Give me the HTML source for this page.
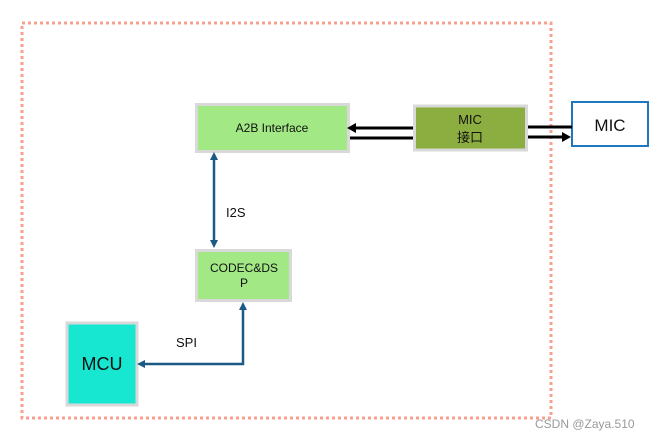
<!DOCTYPE html>
<html><head><meta charset="utf-8"><style>
html,body{margin:0;padding:0;background:#fff;width:659px;height:439px;overflow:hidden}
svg{display:block}
text{font-family:"Liberation Sans","Noto Sans CJK SC",sans-serif}
</style></head><body>
<svg width="659" height="439" viewBox="0 0 659 439" xmlns="http://www.w3.org/2000/svg">
<rect x="22" y="23" width="529" height="395" fill="none" stroke="#f8a090" stroke-width="3" stroke-dasharray="3 3"/>
<!-- A2B -->
<rect x="196.5" y="104.5" width="152" height="47" fill="#a2e884" stroke="#d9d9d9" stroke-width="3"/>
<text x="272" y="132" font-size="12" text-anchor="middle" fill="#111">A2B Interface</text>
<!-- MIC interface -->
<rect x="414.5" y="106" width="112" height="44" fill="#8cae40" stroke="#d9d9d9" stroke-width="3"/>
<text x="470" y="124" font-size="13" text-anchor="middle" fill="#111">MIC</text>
<text x="470" y="142" font-size="13" text-anchor="middle" fill="#111">接口</text>
<!-- MIC -->
<rect x="572" y="102" width="76" height="44" fill="#fff" stroke="#1f77be" stroke-width="2"/>
<text x="610" y="131" font-size="17" text-anchor="middle" fill="#111">MIC</text>
<!-- black arrows -->
<line x1="413" y1="128" x2="354" y2="128" stroke="#000" stroke-width="3"/>
<polygon points="347,128 356,123 356,133" fill="#000"/>
<line x1="350" y1="138" x2="413" y2="138" stroke="#000" stroke-width="3"/>
<line x1="528" y1="127" x2="572" y2="127" stroke="#000" stroke-width="3"/>
<line x1="528" y1="137" x2="564" y2="137" stroke="#000" stroke-width="3"/>
<polygon points="571,137 562,132 562,142" fill="#000"/>
<!-- CODEC -->
<rect x="196.5" y="250.5" width="94" height="50" fill="#a2e884" stroke="#d9d9d9" stroke-width="3"/>
<text x="244" y="272" font-size="12" text-anchor="middle" fill="#111">CODEC&amp;DS</text>
<text x="244" y="287" font-size="12" text-anchor="middle" fill="#111">P</text>
<!-- MCU -->
<rect x="67" y="323" width="70" height="82" fill="#17e6d0" stroke="#d9d9d9" stroke-width="3"/>
<text x="102" y="370" font-size="18" text-anchor="middle" fill="#111">MCU</text>
<!-- I2S -->
<line x1="214" y1="158" x2="214" y2="242" stroke="#1a5a84" stroke-width="2.5"/>
<polygon points="214,152 210,160 218,160" fill="#1a5a84"/>
<polygon points="214,248 210,240 218,240" fill="#1a5a84"/>
<text x="226" y="217" font-size="13" fill="#111">I2S</text>
<!-- SPI -->
<polyline points="243,308 243,364 144,364" fill="none" stroke="#1a5a84" stroke-width="2.5"/>
<polygon points="243,302 239,310 247,310" fill="#1a5a84"/>
<polygon points="137,364 145,360 145,368" fill="#1a5a84"/>
<text x="176" y="347" font-size="13" fill="#111">SPI</text>
<!-- watermark -->
<text x="535" y="428" font-size="12" fill="#999">CSDN @Zaya.510</text>
</svg>
</body></html>
